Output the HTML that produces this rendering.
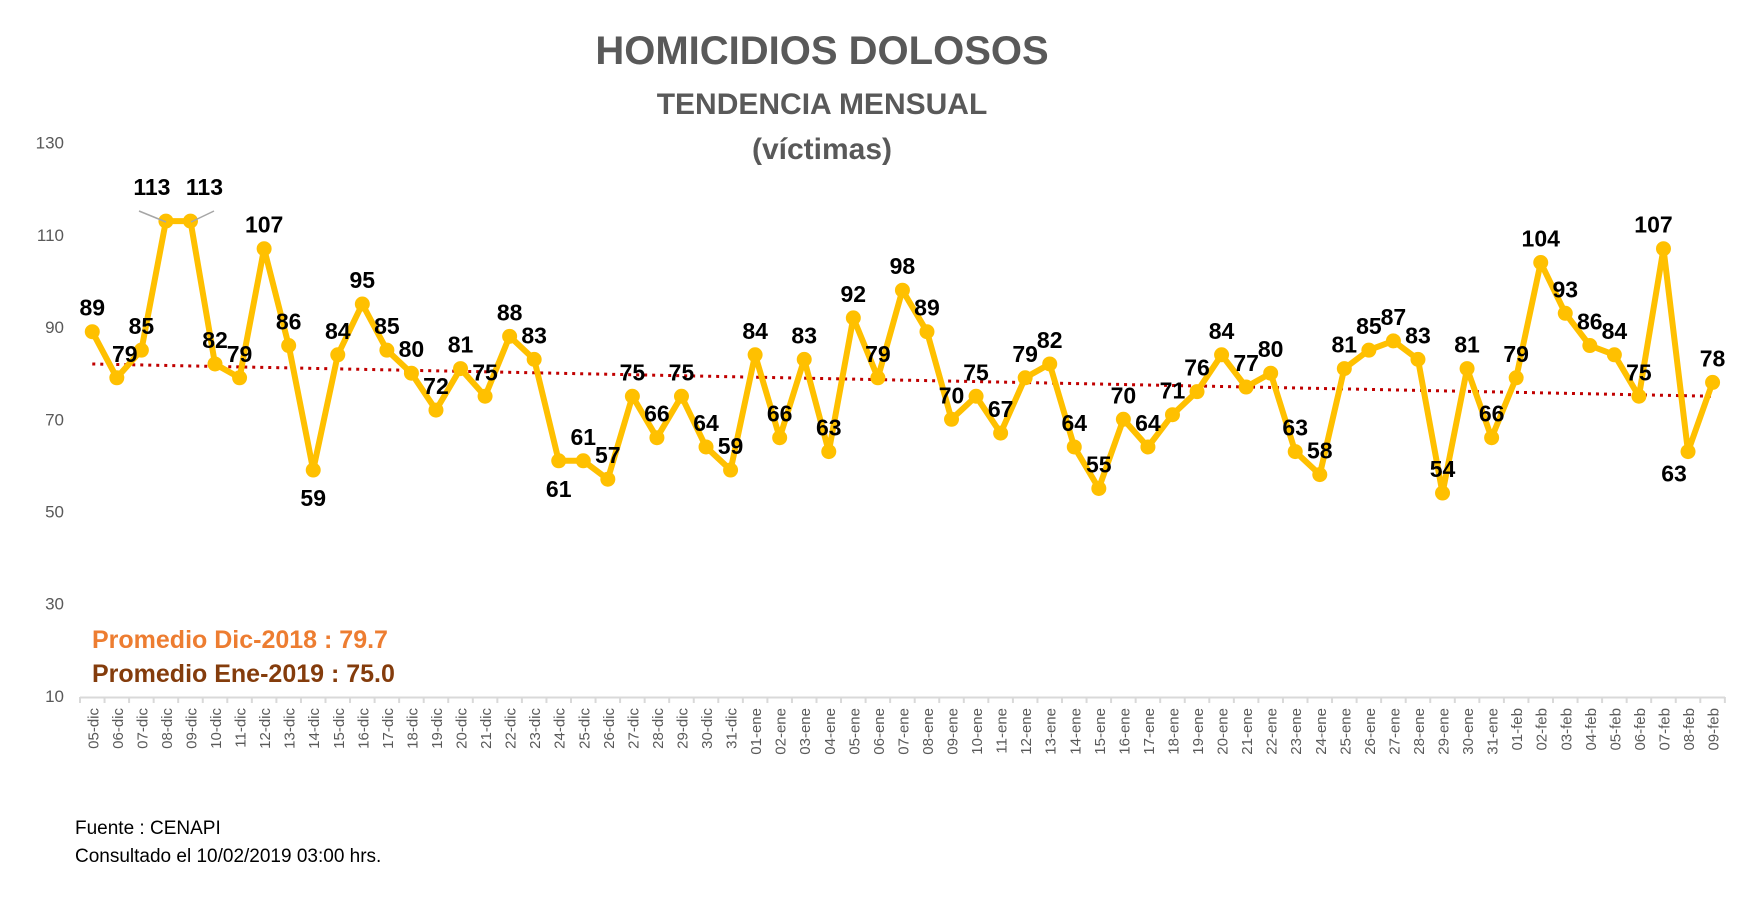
<!DOCTYPE html>
<html><head><meta charset="utf-8">
<style>
html,body{margin:0;padding:0;background:#fff;}
svg{display:block;font-family:"Liberation Sans",sans-serif;}
</style></head><body>
<svg id="c" width="1754" height="902" viewBox="0 0 1754 902" xmlns="http://www.w3.org/2000/svg">
<text x="822" y="64" text-anchor="middle" font-size="40" font-weight="bold" fill="#595959">HOMICIDIOS DOLOSOS</text>
<text x="822" y="114" text-anchor="middle" font-size="30" font-weight="bold" fill="#595959">TENDENCIA MENSUAL</text>
<text x="822" y="159" text-anchor="middle" font-size="30" font-weight="bold" fill="#595959">(víctimas)</text>
<g id="g"></g>
<text x="92" y="648" font-size="25" font-weight="bold" fill="#ED7D31">Promedio Dic-2018  : 79.7</text>
<text x="92" y="682" font-size="25" font-weight="bold" fill="#843C0C">Promedio Ene-2019 : 75.0</text>
<text x="75" y="834" font-size="19" fill="#000">Fuente : CENAPI</text>
<text x="75" y="862" font-size="19" fill="#000">Consultado el 10/02/2019  03:00 hrs.</text>
</svg>
<script>
var d=[89,79,85,113,113,82,79,107,86,59,84,95,85,80,72,81,75,88,83,61,61,57,75,66,75,64,59,
84,66,83,63,92,79,98,89,70,75,67,79,82,64,55,70,64,71,76,84,77,80,63,58,81,85,87,83,54,81,66,
79,104,93,86,84,75,107,63,78];
var cats=[];
for(var i=5;i<=31;i++)cats.push((i<10?"0":"")+i+"-dic");
for(var i=1;i<=31;i++)cats.push((i<10?"0":"")+i+"-ene");
for(var i=1;i<=9;i++)cats.push("0"+i+"-feb");
function X(i){return 80+24.55*(i+0.5);}
function Y(v){return 142.7+(130-v)*4.61;}
var s="";
[130,110,90,70,50,30,10].forEach(function(v){s+='<text x="64" y="'+(Y(v)+6)+'" text-anchor="end" font-size="17" fill="#595959">'+v+'</text>';});
s+='<line x1="80" y1="697.5" x2="1725" y2="697.5" stroke="#D9D9D9" stroke-width="2"/>';
for(var i=0;i<=67;i++){var x=80+24.55*i;s+='<line x1="'+x+'" y1="697" x2="'+x+'" y2="703" stroke="#D9D9D9" stroke-width="2"/>';}
cats.forEach(function(c,i){var x=X(i)+6;s+='<text transform="translate('+x+',708) rotate(-90)" text-anchor="end" font-size="15" fill="#595959">'+c+'</text>';});
s+='<line x1="'+X(0)+'" y1="'+Y(82)+'" x2="'+X(66)+'" y2="'+Y(75)+'" stroke="#C00000" stroke-width="3" stroke-dasharray="3,5"/>';
var p=d.map(function(v,i){return X(i).toFixed(1)+","+Y(v).toFixed(1);}).join(" ");
s+='<polyline points="'+p+'" fill="none" stroke="#FFC000" stroke-width="6" stroke-linejoin="round"/>';
d.forEach(function(v,i){s+='<circle cx="'+X(i)+'" cy="'+Y(v)+'" r="7.5" fill="#FFC000"/>';});
var below={9:1,19:1};
var off={1:[8,0],3:[-14,-10],4:[14,-10],64:[-10,0]};
s+='<line x1="139" y1="211" x2="166" y2="222" stroke="#A6A6A6" stroke-width="1.5"/><line x1="214" y1="211" x2="191" y2="222" stroke="#A6A6A6" stroke-width="1.5"/>';
d.forEach(function(v,i){var x=X(i),y=Y(v)-16;
 if(below[i])y=Y(v)+36;
 if(off[i]){x+=off[i][0];y+=off[i][1];}
 if(i==65){x-=14;y=Y(v)+30;}
 s+='<text x="'+x+'" y="'+y+'" text-anchor="middle" font-size="23" font-weight="bold" fill="#000">'+v+'</text>';});
document.getElementById("g").innerHTML=s;
</script>
</body></html>
